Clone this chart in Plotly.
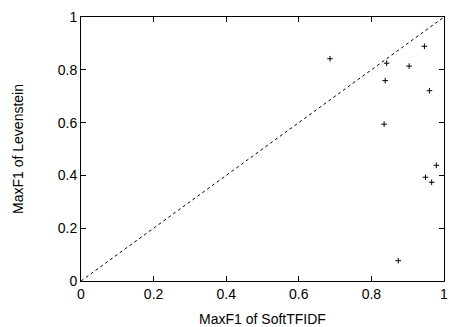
import plotly.graph_objects as go

soft_tfidf = [0.686, 0.946, 0.842, 0.904, 0.838, 0.960, 0.835, 0.979, 0.949, 0.966, 0.874]
levenstein = [0.842, 0.889, 0.825, 0.814, 0.759, 0.721, 0.594, 0.438, 0.393, 0.374, 0.077]
diag = [0, 1]
tick_vals = [0, 0.2, 0.4, 0.6, 0.8, 1]
tick_text = ["0", "0.2", "0.4", "0.6", "0.8", "1"]

FONT = "Liberation Sans, Arial, sans-serif"

fig = go.Figure()
fig.add_trace(go.Scatter(x=diag, y=diag, mode="lines",
                         line=dict(color="black", width=1, dash="dot"),
                         hoverinfo="skip", showlegend=False))
fig.add_trace(go.Scatter(x=soft_tfidf, y=levenstein, mode="markers",
                         marker=dict(symbol="cross-thin", size=4,
                                     line=dict(color="black", width=1)),
                         showlegend=False))

axis_common = dict(range=[0, 1], tickvals=tick_vals, ticktext=tick_text,
                   ticks="inside", ticklen=5, tickcolor="black", tickwidth=1,
                   showline=True, linecolor="black", linewidth=1, mirror="allticks",
                   showgrid=False, zeroline=False, automargin=False,
                   tickfont=dict(family=FONT, size=14, color="black"))

fig.update_xaxes(**axis_common,
                 title=dict(text="MaxF1 of SoftTFIDF", standoff=13,
                            font=dict(family=FONT, size=14, color="black")))
fig.update_yaxes(**axis_common,
                 title=dict(text="MaxF1 of Levenstein", standoff=30,
                            font=dict(family=FONT, size=14, color="black")))

fig.update_layout(width=449, height=327, margin=dict(l=81, r=5, t=17, b=46),
                  plot_bgcolor="white", paper_bgcolor="white")
fig.write_html("out.html",
               config={"displayModeBar": False},
               post_script="document.body.style.margin='0';document.body.style.overflow='hidden';")
